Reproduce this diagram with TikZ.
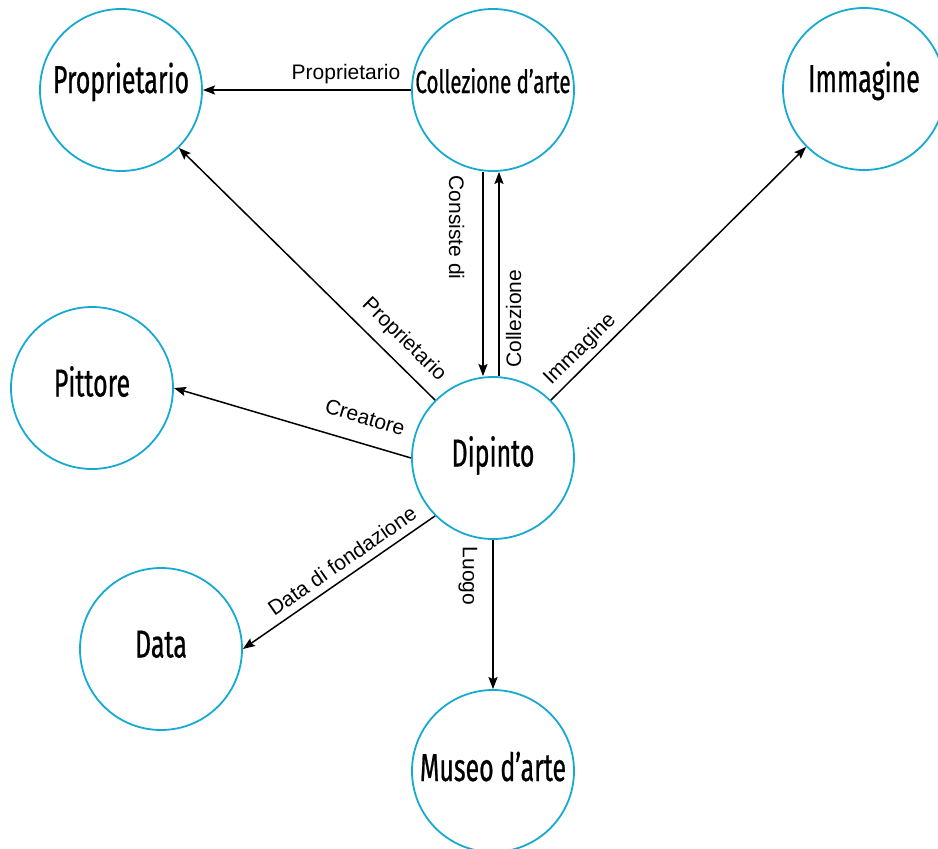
\documentclass[tikz,border=0pt]{standalone}
\usepackage{fontspec}
\setmainfont{Liberation Sans}
\newfontfamily\entfont[FakeStretch=0.64,FakeBold=0.6]{Fira Sans}
\usetikzlibrary{arrows.meta,calc}
\definecolor{ringcol}{RGB}{23,170,208}
\begin{document}
\begin{tikzpicture}[x=1pt,y=-1pt,
  ent/.style={circle, draw=ringcol, line width=1.8pt, fill=white, minimum size=162pt,
    inner sep=0pt, text depth=10pt, text height=#1, font=\entfont\fontsize{39}{42}\selectfont},
  ent/.default=27pt,
  rel/.style={line width=1.5pt, -{Stealth[length=12pt,width=9pt,inset=2pt]}},
  lab/.style={font=\fontsize{21}{24}\selectfont, inner sep=0pt, sloped}]
\useasboundingbox (0,0) rectangle (938,849);
\node[ent=16pt] (prop) at (121,90) {Proprietario};
\node[ent=16pt, font=\entfont\fontsize{32}{34}\selectfont] (col) at (493,90) {Collezione d’arte};
\node[ent=16pt] (img) at (864,89) {Immagine};
\node[ent] (pit) at (92,388) {Pittore};
\node[ent] (dip) at (493,458) {Dipinto};
\node[ent] (dat) at (161,649) {Data};
\node[ent=30pt] (mus) at (493,771) {Museo d’arte};

\draw[rel] (col.west) -- node[lab, pos=0.313, above=5.3pt] {Proprietario} (prop.east);
\draw[rel] (dip.north west) -- node[lab, pos=0.18, above=10.6pt] {Proprietario} (prop.south east);
\draw[rel] (dip.west) -- node[lab, pos=0.225, above=18pt] {Creatore} (pit.east);
\draw[rel] (dip.south west) -- node[lab, pos=0.437, above=7.5pt] {Data di fondazione} (dat.east);
\draw[rel] (dip.north east) -- node[lab, pos=0.157, above=4.8pt] {Immagine} (img.south west);
\draw[rel] ($(col.south)+(-10,0)$) -- node[lab, pos=0.272, below=18pt] {Consiste di} ($(dip.north)+(-10,0)$);
\draw[rel] ($(dip.north)+(6,0)$) -- node[lab, pos=0.281, below=6.2pt] {Collezione} ($(col.south)+(6,0)$);
\draw[rel] (dip.south) -- node[lab, pos=0.242, below=15pt] {Luogo} (mus.north);
\end{tikzpicture}
\end{document}
